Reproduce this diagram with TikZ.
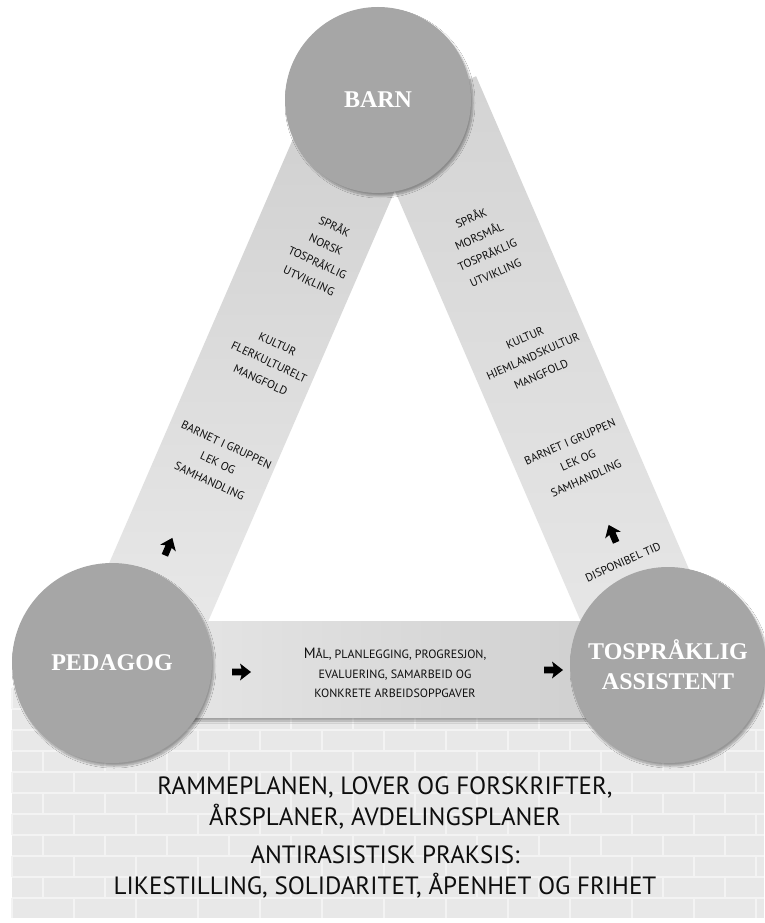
\documentclass[tikz,border=0pt]{standalone}
\usepackage{fontspec}
\setmainfont{PT Sans}
\newfontfamily\labelfont{Liberation Serif}
\usetikzlibrary{calc,shadows.blur}
\definecolor{circgray}{HTML}{A6A6A6}
\definecolor{wallbase}{HTML}{E8E8E8}
\definecolor{walljoint}{HTML}{F3F3F3}
\definecolor{txtdark}{HTML}{0E0E0E}
\tikzset{
  circ/.style={circle, fill=circgray, text=white, inner sep=0pt, align=center,
    font=\labelfont\bfseries\fontsize{24}{30}\selectfont,
    blur shadow={shadow xshift=2pt, shadow yshift=-3pt, shadow blur steps=10, shadow opacity=35}},
  bandtxt/.style={align=center, inner sep=0pt, text=txtdark, font=\fontsize{11.5}{20}\selectfont},
  bigtxt/.style={align=center, inner sep=0pt, text=txtdark},
  fatarrow/.pic={\fill[black] (11,0) -- (0,8.5) -- (1.5,3.4) -- (-8,3.4) -- (-8,-3.4) -- (1.5,-3.4) -- (0,-8.5) -- cycle;}
}
\begin{document}
\begin{tikzpicture}[x=1pt,y=-1pt]
\useasboundingbox (0,0) rectangle (764,923);
\fill[white] (0,0) rectangle (764,923);

% brick wall
\fill[wallbase] (12,688) rectangle (764,918);
\foreach \r in {0,...,10}{
  \pgfmathsetmacro{\yy}{688+21*\r}
  \draw[walljoint, line width=1.3pt] (12,\yy) -- (764,\yy);
  \pgfmathsetmacro{\off}{mod(\r,2)*31}
  \foreach \c in {0,...,12}{
    \pgfmathsetmacro{\xx}{12+\off+62*\c}
    \draw[walljoint, line width=1.3pt] (\xx,\yy) -- (\xx,{min(\yy+21,918)});
  }
}

% band end points
\coordinate (lbB) at (128,663);
\coordinate (lbT) at (372,100);
\coordinate (rbB) at (665,665);
\coordinate (rbT) at (421,100);

% left band
\shade[top color=black!19, bottom color=black!8]
  ($(lbB)!57pt!90:(lbT)$) -- ($(lbT)!57pt!-90:(lbB)$) --
  ($(lbT)!57pt!90:(lbB)$) -- ($(lbB)!57pt!-90:(lbT)$) -- cycle;
% right band
\shade[top color=black!17, bottom color=black!9]
  ($(rbB)!60pt!90:(rbT)$) -- ($(rbT)!60pt!-90:(rbB)$) --
  ($(rbT)!60pt!90:(rbB)$) -- ($(rbB)!60pt!-90:(rbT)$) -- cycle;
% bottom band
\shade[left color=black!9, right color=black!20,
  blur shadow={shadow xshift=0pt, shadow yshift=-4pt, shadow blur steps=8, shadow opacity=30}]
  (112,621) rectangle (668,717);

% circles
\node[circ, minimum size=186pt] (barn) at (378,100) {BARN};
\node[circ, minimum size=200pt] (ped) at (112,663) {PEDAGOG};
\node[circ, minimum size=196pt] (ass) at (668,665) {TOSPRÅKLIG\\ASSISTENT};

% left band texts
\node[bandtxt, rotate=-25] (l1) at (322,253) {SPRÅK\\NORSK\\TOSPRÅKLIG\\UTVIKLING};
\node[bandtxt, rotate=-25] (l2) at (269,362) {KULTUR\\FLERKULTURELT\\MANGFOLD};
\node[bandtxt, rotate=-25] (l3) at (218,463) {BARNET I GRUPPEN\\LEK OG\\SAMHANDLING};
\pic[shift={(168,548)}, rotate=66.7] {fatarrow};

% right band texts
\node[bandtxt, rotate=24] (r1) at (483,245) {SPRÅK\\MORSMÅL\\TOSPRÅKLIG\\UTVIKLING};
\node[bandtxt, rotate=24] (r2) at (533,356) {KULTUR\\HJEMLANDSKULTUR\\MANGFOLD};
\node[bandtxt, rotate=24] (r3) at (578,460) {BARNET I GRUPPEN\\LEK OG\\SAMHANDLING};
\pic[shift={(613,535)}, rotate=113.3] {fatarrow};
\node[bandtxt, rotate=24] (r4) at (623,562) {DISPONIBEL TID};

% bottom band
\pic[shift={(240,672)}] {fatarrow};
\node[bandtxt, font=\fontsize{12}{19.5}\selectfont] (b1) at (395,673)
  {{\fontsize{15}{19.5}\selectfont M}ÅL, PLANLEGGING, PROGRESJON,\\EVALUERING, SAMARBEID OG\\KONKRETE ARBEIDSOPPGAVER};
\pic[shift={(552,670)}] {fatarrow};

% bottom texts
\node[bigtxt, font=\fontsize{25}{31}\selectfont] (rules) at (385,803)
  {RAMMEPLANEN, LOVER OG FORSKRIFTER,\\ÅRSPLANER, AVDELINGSPLANER};
\node[bigtxt, font=\fontsize{25}{31}\selectfont] (anti) at (385,872)
  {ANTIRASISTISK PRAKSIS:\\LIKESTILLING, SOLIDARITET, ÅPENHET OG FRIHET};
\end{tikzpicture}
\end{document}
